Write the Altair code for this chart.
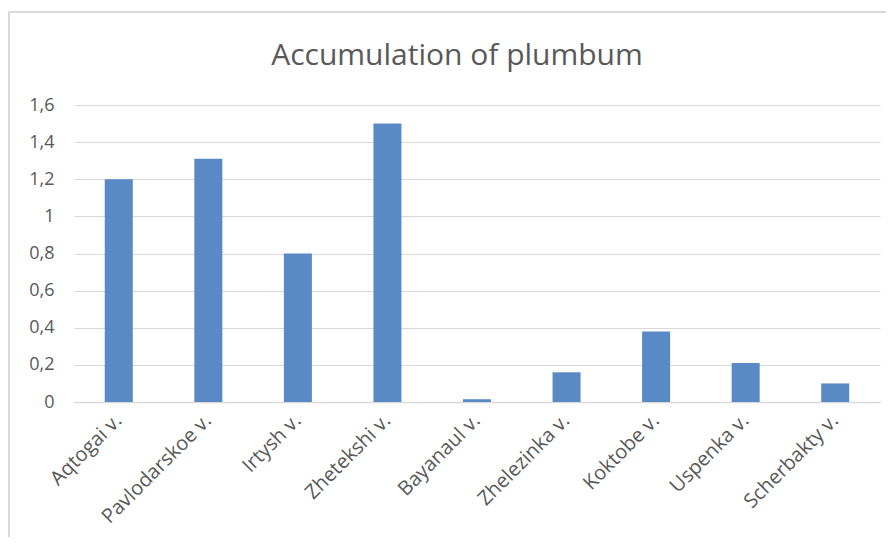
import altair as alt
import pandas as pd

categories = ["Aqtogai v.", "Pavlodarskoe v.", "Irtysh v.", "Zhetekshi v.", "Bayanaul v.",
              "Zhelezinka v.", "Koktobe v.", "Uspenka v.", "Scherbakty v."]
values = [1.2, 1.31, 0.8, 1.5, 0.015, 0.16, 0.38, 0.21, 0.1]
y_ticks = [0, 0.2, 0.4, 0.6, 0.8, 1.0, 1.2, 1.4, 1.6]
title_text = "Accumulation of plumbum"

df = pd.DataFrame({"site": categories, "value": values})

FONT = "Open Sans"
GREY = "#595959"

bars = alt.Chart(df).mark_bar(color="#5A8AC6").encode(
    x=alt.X("site:N", sort=categories, title=None,
            scale=alt.Scale(paddingInner=0.687, paddingOuter=0.3435),
            axis=alt.Axis(labelAngle=-45, labelAlign="right", labelBaseline="middle",
                          labelFont=FONT, labelFontSize=20, labelColor=GREY,
                          ticks=False, domainColor="#D9D9D9", domainWidth=1.5,
                          labelPadding=15)),
    y=alt.Y("value:Q", title=None,
            scale=alt.Scale(domain=[0, 1.6], nice=False),
            axis=alt.Axis(values=y_ticks, labelExpr="replace(format(datum.value, '.1~f'), '.', ',')",
                          labelFont=FONT, labelFontSize=18, labelColor=GREY,
                          ticks=False, domain=False, gridColor="#D9D9D9", gridWidth=1.2,
                          labelPadding=20)),
)

border_left = alt.Chart(df).mark_rule(color="#D9D9D9", strokeWidth=2, clip=False).encode(
    x=alt.value(-65), y=alt.value(-93), y2=alt.value(460))
border_top = alt.Chart(df).mark_rule(color="#D9D9D9", strokeWidth=2, clip=False).encode(
    x=alt.value(-65), x2=alt.value(830), y=alt.value(-93))

title = alt.Chart(pd.DataFrame({"t": [title_text]})).mark_text(
    font=FONT, fontSize=30, color=GREY, align="center", baseline="alphabetic", clip=False
).encode(text="t:N", x=alt.value(383), y=alt.value(-40))

chart = alt.layer(border_left, border_top, bars, title).properties(
    width=806, height=297,
    autosize=alt.AutoSizeParams(type="none"),
    padding={"left": 66, "top": 97, "right": 6, "bottom": 135},
).configure_view(stroke=None)

chart.save("out.html", embed_options={"renderer": "svg", "actions": False})
